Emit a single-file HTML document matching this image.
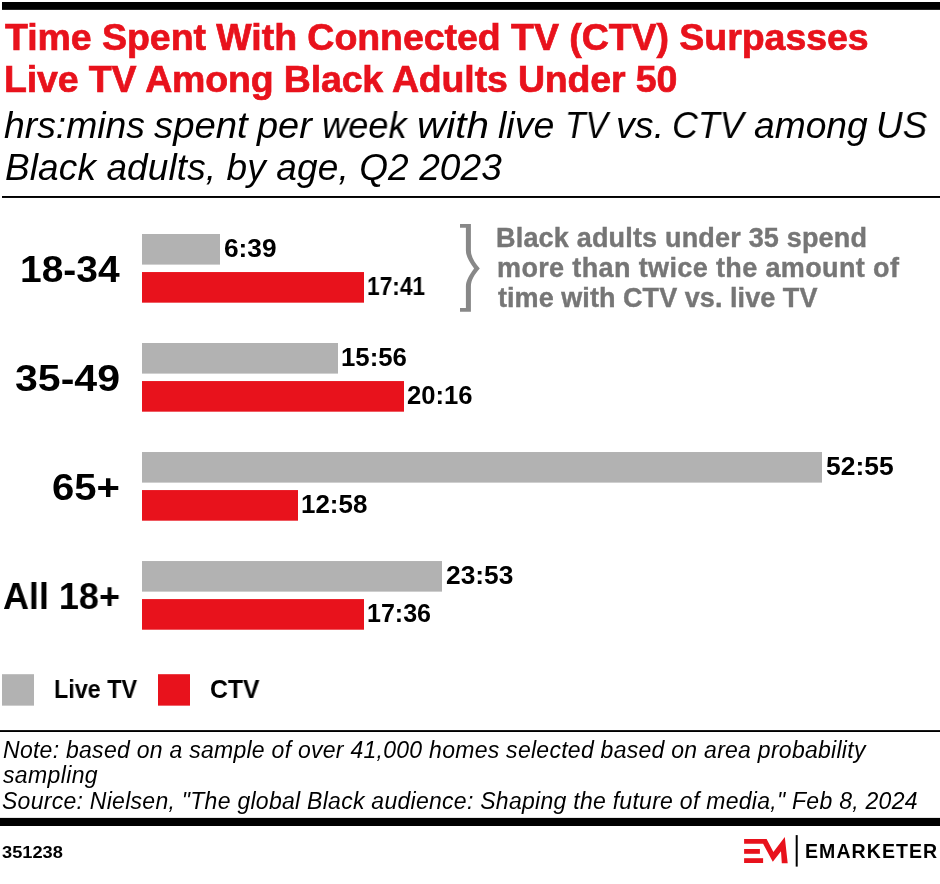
<!DOCTYPE html>
<html><head><meta charset="utf-8"><title>Time Spent With Connected TV (CTV) Surpasses Live TV Among Black Adults Under 50</title><style>
html,body{margin:0;padding:0;background:#fff;}
body{width:940px;height:884px;position:relative;overflow:hidden;font-family:"Liberation Sans",sans-serif;}
.t{position:absolute;white-space:nowrap;will-change:transform;}
svg{position:absolute;left:0;top:0;}
</style></head><body>
<svg width="940" height="884" viewBox="0 0 940 884"><rect x="2" y="2" width="938" height="7.85" fill="#000"/><rect x="2" y="196" width="938" height="1.95" fill="#000"/><rect x="0" y="730.1" width="940" height="1.9" fill="#000"/><rect x="0" y="817.9" width="940" height="8.1" fill="#000"/><rect x="142" y="234.0" width="78" height="30.6" fill="#b2b2b2"/><rect x="142" y="272.05" width="222" height="30.62" fill="#e8121c"/><rect x="142" y="343.01" width="196" height="30.6" fill="#b2b2b2"/><rect x="142" y="381.06" width="262" height="30.62" fill="#e8121c"/><rect x="142" y="452.02" width="680" height="30.6" fill="#b2b2b2"/><rect x="142" y="490.07" width="156" height="30.62" fill="#e8121c"/><rect x="142" y="561.03" width="300" height="30.6" fill="#b2b2b2"/><rect x="142" y="599.08" width="222" height="30.62" fill="#e8121c"/><rect x="2" y="674.2" width="32" height="31.45" fill="#b2b2b2"/><rect x="158" y="674.2" width="32" height="31.45" fill="#e8121c"/><path d="M460,224 H470.9 V250.5 C470.9,257 475,263 479.8,268.6 C475,274 470.9,280 470.9,286.5 V311.8 H460 V308.1 H465.9 V286.5 C465.9,281 469,275.5 474.1,268.6 C469,261.5 465.9,256 465.9,250.5 V227.7 H460 Z" fill="#888888"/><g fill="#e8121c"><polygon points="744.1,838.9 766.6,838.9 773.4,851.9 784.8,837 787.7,863.3 781.8,863.3 781,851.3 772.8,861.8 763.1,843.7 744.1,843.7"/><rect x="744.1" y="849" width="15.8" height="4.8"/><rect x="744.1" y="858.2" width="19" height="4.8"/></g><rect x="795.7" y="835.1" width="2" height="31.5" fill="#000"/></svg>
<div class="t" style="left:4.63px;top:18.61px;font-size:37.5px;line-height:37.5px;font-weight:700;color:#e8121c;letter-spacing:-0.049px;-webkit-text-stroke:0.7px #e8121c;">Time Spent With Connected TV (CTV) Surpasses</div>
<div class="t" style="left:4.04px;top:60.66px;font-size:37.5px;line-height:37.5px;font-weight:700;color:#e8121c;letter-spacing:-0.156px;-webkit-text-stroke:0.7px #e8121c;">Live TV Among Black Adults Under 50</div>
<div class="t" style="left:4.15px;top:106.68px;font-size:37px;line-height:37px;font-style:italic;transform:scaleX(1.0088);transform-origin:0 0;">hrs:mins</div>
<div class="t" style="left:153.75px;top:106.68px;font-size:37px;line-height:37px;font-style:italic;transform:scaleX(1.0360);transform-origin:0 0;">spent</div>
<div class="t" style="left:257.00px;top:106.68px;font-size:37px;line-height:37px;font-style:italic;transform:scaleX(1.0240);transform-origin:0 0;">per</div>
<div class="t" style="left:321.57px;top:106.68px;font-size:37px;line-height:37px;font-style:italic;transform:scaleX(0.9788);transform-origin:0 0;">week</div>
<div class="t" style="left:417.35px;top:106.68px;font-size:37px;line-height:37px;font-style:italic;transform:scaleX(1.0922);transform-origin:0 0;">with</div>
<div class="t" style="left:497.50px;top:106.68px;font-size:37px;line-height:37px;font-style:italic;transform:scaleX(1.0132);transform-origin:0 0;">live</div>
<div class="t" style="left:565.30px;top:106.68px;font-size:37px;line-height:37px;font-style:italic;transform:scaleX(0.9098);transform-origin:0 0;">TV</div>
<div class="t" style="left:616.40px;top:106.68px;font-size:37px;line-height:37px;font-style:italic;transform:scaleX(1.0171);transform-origin:0 0;">vs.</div>
<div class="t" style="left:671.60px;top:106.68px;font-size:37px;line-height:37px;font-style:italic;transform:scaleX(0.9690);transform-origin:0 0;">CTV</div>
<div class="t" style="left:753.73px;top:106.68px;font-size:37px;line-height:37px;font-style:italic;transform:scaleX(1.0052);transform-origin:0 0;">among</div>
<div class="t" style="left:875.85px;top:106.68px;font-size:37px;line-height:37px;font-style:italic;transform:scaleX(0.9948);transform-origin:0 0;">US</div>
<div class="t" style="left:4.86px;top:148.68px;font-size:37px;line-height:37px;font-style:italic;letter-spacing:0.112px;">Black adults, by age, Q2 2023</div>
<div class="t" style="left:19.89px;top:251.80px;font-size:36.5px;line-height:36.5px;font-weight:700;transform:scaleX(1.0682);transform-origin:0 0;">18-34</div>
<div class="t" style="left:15.43px;top:361.00px;font-size:36.5px;line-height:36.5px;font-weight:700;transform:scaleX(1.1251);transform-origin:0 0;">35-49</div>
<div class="t" style="left:52.25px;top:469.70px;font-size:36.5px;line-height:36.5px;font-weight:700;transform:scaleX(1.0979);transform-origin:0 0;">65+</div>
<div class="t" style="left:2.70px;top:578.80px;font-size:36.5px;line-height:36.5px;font-weight:700;transform:scaleX(0.9850);transform-origin:0 0;">All 18+</div>
<div class="t" style="left:223.70px;top:236.04px;font-size:25px;line-height:25px;font-weight:700;transform:scaleX(1.0509);transform-origin:0 0;">6:39</div>
<div class="t" style="left:367.39px;top:273.64px;font-size:25px;line-height:25px;font-weight:700;transform:scaleX(0.9084);transform-origin:0 0;">17:41</div>
<div class="t" style="left:340.63px;top:344.94px;font-size:25px;line-height:25px;font-weight:700;transform:scaleX(1.0315);transform-origin:0 0;">15:56</div>
<div class="t" style="left:407.36px;top:383.14px;font-size:25px;line-height:25px;font-weight:700;transform:scaleX(1.0256);transform-origin:0 0;">20:16</div>
<div class="t" style="left:825.73px;top:453.64px;font-size:25px;line-height:25px;font-weight:700;transform:scaleX(1.0571);transform-origin:0 0;">52:55</div>
<div class="t" style="left:300.66px;top:491.84px;font-size:25px;line-height:25px;font-weight:700;transform:scaleX(1.0370);transform-origin:0 0;">12:58</div>
<div class="t" style="left:445.52px;top:562.84px;font-size:25px;line-height:25px;font-weight:700;transform:scaleX(1.0541);transform-origin:0 0;">23:53</div>
<div class="t" style="left:366.65px;top:600.84px;font-size:25px;line-height:25px;font-weight:700;transform:scaleX(1.0016);transform-origin:0 0;">17:36</div>
<div class="t" style="left:496.43px;top:224.64px;font-size:27px;line-height:27px;font-weight:700;color:#767676;letter-spacing:0.188px;-webkit-text-stroke:0.4px #767676;">Black adults under 35 spend</div>
<div class="t" style="left:496.53px;top:254.94px;font-size:27px;line-height:27px;font-weight:700;color:#767676;letter-spacing:0.370px;-webkit-text-stroke:0.4px #767676;">more than twice the amount of</div>
<div class="t" style="left:497.81px;top:284.54px;font-size:27px;line-height:27px;font-weight:700;color:#767676;letter-spacing:0.055px;-webkit-text-stroke:0.4px #767676;">time with CTV vs. live TV</div>
<div class="t" style="left:54.34px;top:676.64px;font-size:25px;line-height:25px;font-weight:700;transform:scaleX(0.9343);transform-origin:0 0;">Live TV</div>
<div class="t" style="left:210.20px;top:676.64px;font-size:25px;line-height:25px;font-weight:700;transform:scaleX(0.9902);transform-origin:0 0;">CTV</div>
<div class="t" style="left:2.54px;top:738.63px;font-size:23px;line-height:23px;font-style:italic;letter-spacing:0.270px;">Note: based on a sample of over 41,000 homes selected based on area probability</div>
<div class="t" style="left:2.59px;top:764.23px;font-size:23px;line-height:23px;font-style:italic;letter-spacing:0.366px;">sampling</div>
<div class="t" style="left:1.89px;top:790.33px;font-size:23px;line-height:23px;font-style:italic;letter-spacing:0.275px;">Source: Nielsen, &quot;The global Black audience: Shaping the future of media,&quot; Feb 8, 2024</div>
<div class="t" style="left:1.95px;top:843.71px;font-size:17px;line-height:17px;font-weight:700;transform:scaleX(1.0714);transform-origin:0 0;">351238</div>
<div class="t" style="left:804.67px;top:841.99px;font-size:19.5px;line-height:19.5px;font-weight:700;letter-spacing:1.081px;">EMARKETER</div>
</body></html>
